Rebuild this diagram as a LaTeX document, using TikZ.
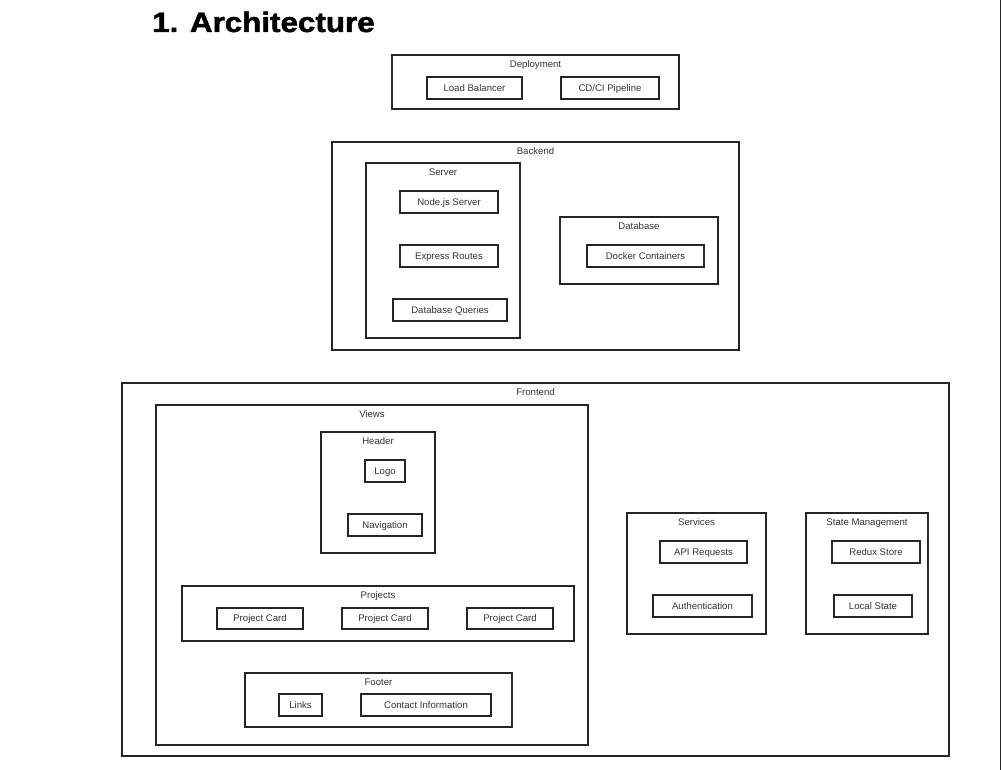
\documentclass[tikz,border=0pt]{standalone}
\usepackage{fontspec}
\setmainfont{Liberation Sans}
\newfontfamily\heavyfont{Liberation Sans Bold}[FakeBold=1.6]
\definecolor{edge}{HTML}{262626}
\definecolor{ink}{HTML}{333333}
\tikzset{
  grp/.style={draw=edge, line width=1.3pt, inner sep=0pt},
  leaf/.style={draw=edge, line width=1.8pt, inner sep=0pt,
    text=ink, font=\fontsize{9.6}{11}\selectfont, text height=7.8pt, text depth=1.2pt},
  lbl/.style={text=ink, font=\fontsize{9.6}{11}\selectfont, inner sep=0pt,
    text height=7.8pt, text depth=1.2pt},
  title/.style={font=\fontsize{28}{32}\heavyfont, anchor=base west, inner sep=0pt}
}
% box from its corners: name, x1, y1, x2, y2, style, text
\newcommand{\cornerbox}[7]{%
  \node[#6, minimum width={(#4-#2)*1pt}, minimum height={(#5-#3)*1pt}]
    (#1) at ({(#2+#4)/2},{(#3+#5)/2}) {#7};}
\newcommand{\grouplabel}[3]{\node[lbl] (#1) at ([yshift=-9.5pt]#2.north) {#3};}
\begin{document}
\begin{tikzpicture}[x=1pt, y=-1pt]
\useasboundingbox (0,0) rectangle (1001,770);
\fill[white] (0,0) rectangle (1001,770);
\draw[line width=1.2pt, edge] (1000.2,0) -- (1000.2,770);

% heading
\node[title] (heading) at (152,32) {\scalebox{1.12}[1]{1. Architecture}};

% deployment
\cornerbox{dep}{392}{55}{679}{109}{grp}{}
\grouplabel{deplbl}{dep}{Deployment}
\cornerbox{lb}{427}{77}{522}{99}{leaf}{Load Balancer}
\cornerbox{cicd}{561}{77}{659}{99}{leaf}{CD/CI Pipeline}

% backend
\cornerbox{back}{332}{142}{739}{350}{grp}{}
\grouplabel{backlbl}{back}{Backend}
\cornerbox{server}{366}{163}{520}{338}{grp}{}
\grouplabel{serverlbl}{server}{Server}
\cornerbox{node}{400}{191}{498}{213}{leaf}{Node.js Server}
\cornerbox{express}{400}{245}{498}{267}{leaf}{Express Routes}
\cornerbox{queries}{393}{299}{507}{321}{leaf}{Database Queries}
\cornerbox{db}{560}{217}{718}{284}{grp}{}
\grouplabel{dblbl}{db}{Database}
\cornerbox{docker}{587}{245}{704}{267}{leaf}{Docker Containers}

% frontend
\cornerbox{front}{122}{383}{949}{756}{grp}{}
\grouplabel{frontlbl}{front}{Frontend}
\cornerbox{views}{156}{405}{588}{745}{grp}{}
\grouplabel{viewslbl}{views}{Views}
\cornerbox{header}{321}{432}{435}{553}{grp}{}
\grouplabel{headerlbl}{header}{Header}
\cornerbox{logo}{365}{460}{405}{482}{leaf}{Logo}
\cornerbox{nav}{348}{514}{422}{536}{leaf}{Navigation}
\cornerbox{projects}{182}{586}{574}{641}{grp}{}
\grouplabel{projectslbl}{projects}{Projects}
\cornerbox{card1}{217}{608}{303}{629}{leaf}{Project Card}
\cornerbox{card2}{342}{608}{428}{629}{leaf}{Project Card}
\cornerbox{card3}{467}{608}{553}{629}{leaf}{Project Card}
\cornerbox{footer}{245}{673}{512}{727}{grp}{}
\grouplabel{footerlbl}{footer}{Footer}
\cornerbox{links}{279}{694}{322}{716}{leaf}{Links}
\cornerbox{contact}{361}{694}{491}{716}{leaf}{Contact Information}

\cornerbox{services}{627}{513}{766}{634}{grp}{}
\grouplabel{serviceslbl}{services}{Services}
\cornerbox{api}{660}{541}{747}{563}{leaf}{API Requests}
\cornerbox{auth}{653}{595}{752}{617}{leaf}{Authentication}

\cornerbox{state}{806}{513}{928}{634}{grp}{}
\grouplabel{statelbl}{state}{State Management}
\cornerbox{redux}{832}{541}{920}{563}{leaf}{Redux Store}
\cornerbox{local}{834}{595}{912}{617}{leaf}{Local State}
\end{tikzpicture}
\end{document}
